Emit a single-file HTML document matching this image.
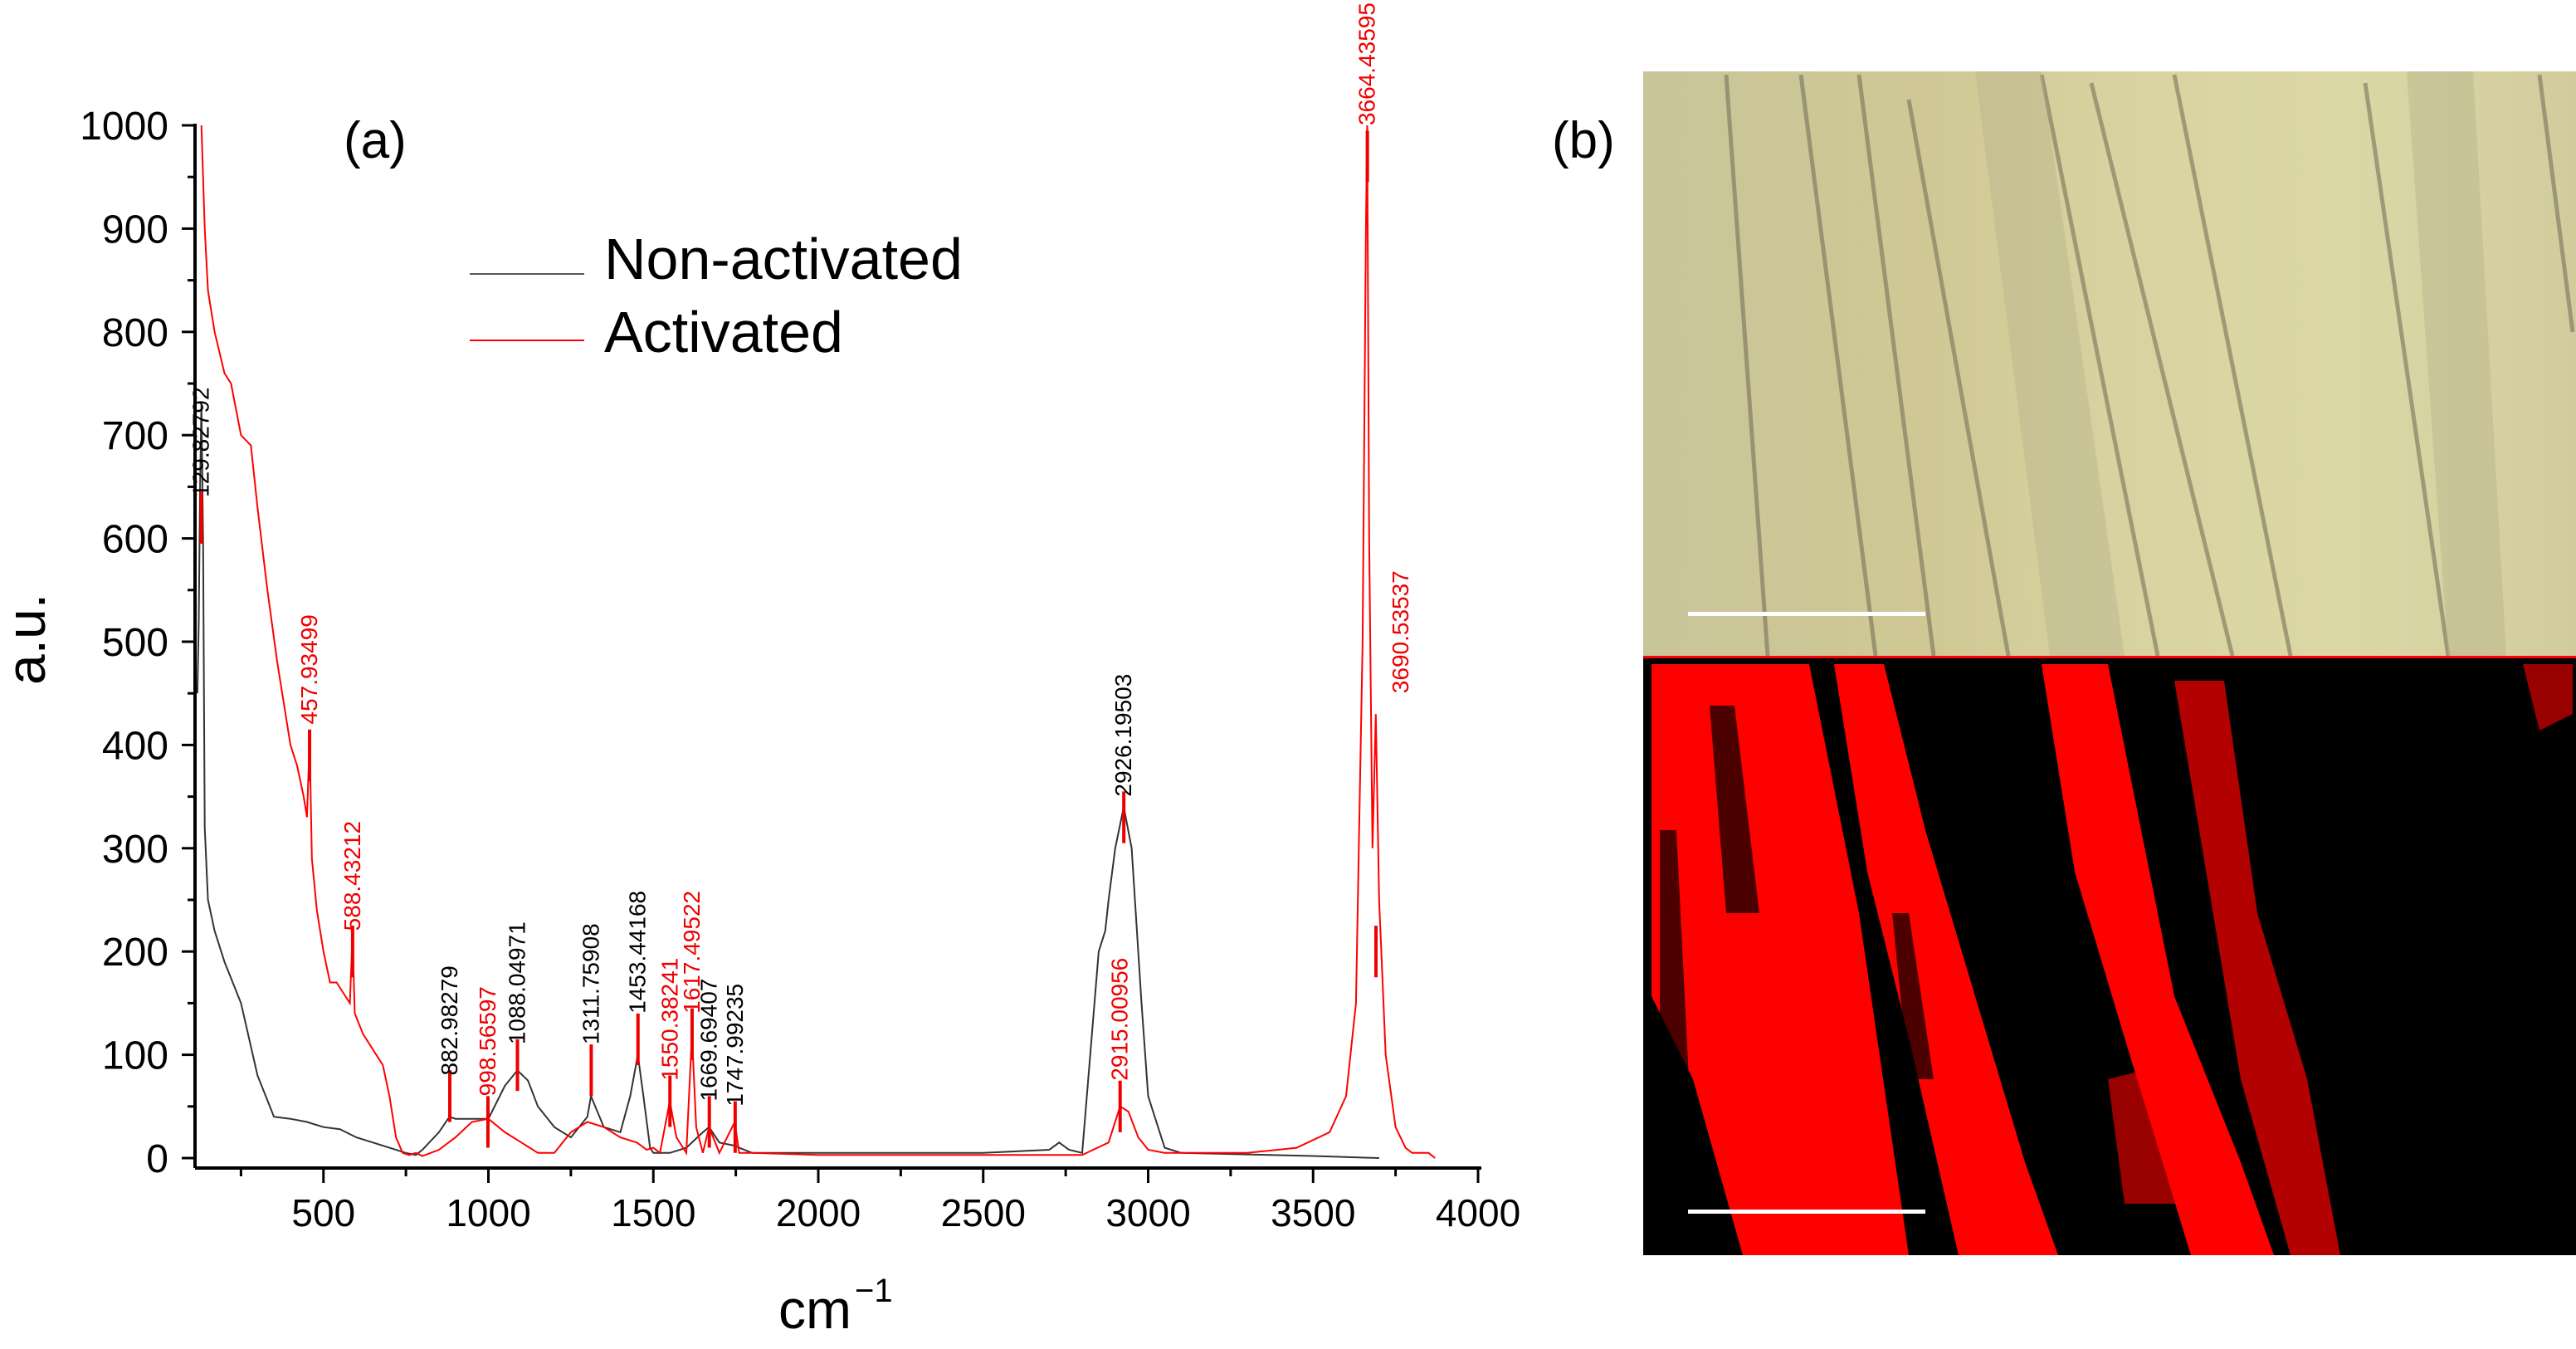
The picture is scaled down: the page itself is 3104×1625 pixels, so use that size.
<!DOCTYPE html>
<html><head><meta charset="utf-8"><style>
html,body{margin:0;padding:0;background:#fff;}
svg{display:block;font-family:"Liberation Sans",Arial,sans-serif;}
</style></head><body>
<svg id="fig" width="3104" height="1625" viewBox="0 0 3104 1625" xmlns="http://www.w3.org/2000/svg">
<defs>
<linearGradient id="micro" x1="0" y1="0" x2="1" y2="0">
<stop offset="0" stop-color="#c9c59a"/><stop offset="0.3" stop-color="#cfc894"/><stop offset="0.5" stop-color="#d8d2a0"/><stop offset="0.75" stop-color="#dcd8a6"/><stop offset="1" stop-color="#d2cc9c"/>
</linearGradient>
</defs>
<g id="chart"></g>
<text x="414" y="190" font-size="62" text-anchor="start">(a)</text>
<text x="1870" y="190" font-size="62">(b)</text>
<g>
<rect x="1980" y="86" width="1124" height="704" fill="url(#micro)"/>
<g stroke="#6e6a55" stroke-width="5" fill="none" opacity="0.55">
<path d="M2080 90 L2130 790"/><path d="M2170 90 L2260 790"/><path d="M2240 90 L2330 790"/><path d="M2300 120 L2420 790"/>
<path d="M2460 90 L2600 790"/><path d="M2520 100 L2690 790"/><path d="M2620 90 L2760 790"/><path d="M2850 100 L2950 790"/><path d="M3060 90 L3100 400"/>
</g>
<g fill="#b7b38c" opacity="0.45"><path d="M2380 86 L2460 86 L2560 790 L2470 790Z"/><path d="M2900 86 L2980 86 L3020 790 L2950 790Z"/></g>
<rect x="2034" y="737" width="286" height="5" fill="#fff"/>
</g>
<g>
<rect x="1980" y="790" width="1124" height="722" fill="#000"/>
<rect x="1980" y="790" width="1124" height="3" fill="#f00"/>
<g fill="#ff0000">
<path d="M1990 800 L2180 800 L2240 1100 L2300 1512 L2100 1512 L2040 1300 L1990 1200Z"/>
<path d="M2210 800 L2270 800 L2320 1000 L2380 1200 L2440 1400 L2480 1512 L2360 1512 L2300 1250 L2250 1050Z"/>
<path d="M2460 800 L2540 800 L2580 1000 L2620 1200 L2700 1400 L2740 1512 L2640 1512 L2560 1250 L2500 1050Z"/>
<path d="M2620 820 L2680 820 L2720 1100 L2780 1300 L2820 1512 L2760 1512 L2700 1300Z" opacity="0.7"/>
<path d="M2540 1300 L2620 1280 L2660 1450 L2560 1450Z" opacity="0.6"/>
<path d="M3040 800 L3100 800 L3100 860 L3060 880Z" opacity="0.6"/>
</g>
<g fill="#000" opacity="0.7"><path d="M2060 850 L2090 850 L2120 1100 L2080 1100Z"/><path d="M2000 1000 L2020 1000 L2040 1400 L2000 1400Z"/><path d="M2280 1100 L2300 1100 L2330 1300 L2300 1300Z"/></g>
<rect x="2034" y="1457" width="286" height="5" fill="#fff"/>
</g>
</svg>
<script>
const xTicks=[500,1000,1500,2000,2500,3000,3500,4000];
const yTicks=[0,100,200,300,400,500,600,700,800,900,1000];
const nonX=[118,122,126,130,135,140,150,170,200,250,300,350,400,450,500,550,600,650,700,750,780,800,850,882,900,950,1000,1050,1088,1120,1150,1200,1250,1300,1311,1350,1400,1430,1453,1470,1490,1500,1550,1600,1650,1669,1700,1747,1760,1800,2000,2500,2700,2730,2760,2800,2850,2870,2880,2900,2926,2950,2980,3000,3050,3100,3500,3700];
const nonY=[450,520,650,730,600,320,250,220,190,150,80,40,38,35,30,28,20,15,10,5,3,8,25,40,38,38,38,70,85,75,50,30,20,40,60,30,25,60,100,60,10,5,5,10,25,30,15,12,10,5,5,5,8,15,8,5,200,220,250,300,340,300,150,60,10,5,2,0];
const actX=[130,140,150,170,200,220,250,280,300,330,360,400,420,440,450,458,465,480,500,520,540,560,580,588,595,620,650,680,700,720,740,760,780,800,850,900,950,1000,1050,1100,1150,1200,1250,1300,1350,1400,1450,1480,1500,1520,1550,1570,1600,1617,1630,1650,1669,1700,1747,1760,1800,2000,2500,2800,2880,2915,2940,2970,3000,3050,3100,3300,3450,3550,3600,3630,3650,3660,3664,3670,3680,3690,3700,3720,3750,3780,3800,3850,3870];
const actY=[1000,900,840,800,760,750,700,690,630,550,480,400,380,350,330,405,290,240,200,170,170,160,150,215,140,120,105,90,60,20,5,3,5,2,8,20,35,38,25,15,5,5,25,35,30,20,15,8,10,5,55,20,5,120,30,5,30,5,35,5,5,3,3,3,15,50,45,20,8,5,5,5,10,25,60,150,500,900,1000,600,300,430,250,100,30,10,5,5,0];
const peakX=[129.82792,457.93499,588.43212,882.98279,998.56597,1088.04971,1311.75908,1453.44168,1550.38241,1617.49522,1669.69407,1747.99235,2926.19503,2915.00956,3664.43595,3690.53537];
const peakY=[620,390,200,60,35,90,85,115,55,120,35,30,330,50,970,200];
const peakLabelY=[640,420,220,80,60,110,110,140,75,140,55,50,350,75,1000,450];
const peakColor=['#000','#e00','#e00','#000','#e00','#000','#000','#000','#e00','#e00','#000','#000','#000','#e00','#e00','#e00'];
const peakLabelDX=[0,0,0,0,0,0,0,0,0,0,0,0,0,0,0,30];

const NS='http://www.w3.org/2000/svg';
const g=document.getElementById('chart');
const Y0=0,Y1=1000;
const px0=235,py0=1395,py1=151;
function sx(v){return 191+(v)*0.3975;}
function sy(v){return py0-(v-Y0)*(py0-py1)/(Y1-Y0);}
function mk(t,a){const e=document.createElementNS(NS,t);for(const k in a)e.setAttribute(k,a[k]);g.appendChild(e);return e;}
const axisB=1407;
let e=mk('line',{x1:px0,y1:axisB,x2:1785,y2:axisB,stroke:'#000','stroke-width':4});


e=mk('line',{x1:px0,y1:py1-2,x2:px0,y2:axisB,stroke:'#000','stroke-width':4});


xTicks.forEach(v=>{
  e=mk('line',{x1:sx(v),y1:axisB,x2:sx(v),y2:axisB+18,stroke:'#000','stroke-width':3});
  
  
  e=mk('line',{x1:sx(v-250),y1:axisB,x2:sx(v-250),y2:axisB+10,stroke:'#000','stroke-width':3});
  
  
  e=mk('text',{x:sx(v),y:axisB+70,'font-size':46,'text-anchor':'middle'});e.textContent=v;
  
  
});
yTicks.forEach(v=>{
  e=mk('line',{x1:px0-16,y1:sy(v),x2:px0,y2:sy(v),stroke:'#000','stroke-width':3});
  
  
  if(v<1000){e=mk('line',{x1:px0-9,y1:sy(v+50),x2:px0,y2:sy(v+50),stroke:'#000','stroke-width':3});
  
  }
  e=mk('text',{x:px0-32,y:sy(v)+17,'font-size':48,'text-anchor':'end'});e.textContent=v;
  
  
});
e=mk('text',{x:938,y:1600,'font-size':66});e.textContent='cm';


e=mk('text',{x:1030,y:1568,'font-size':40});e.textContent='\u22121';


e=mk('text',{x:0,y:0,'font-size':66,'text-anchor':'middle',transform:'translate(54,770) rotate(-90)'});e.textContent='a.u.';


function pts(xs,ys){return xs.map((x,i)=>sx(x).toFixed(1)+','+sy(ys[i]).toFixed(1)).join(' ');}
e=mk('polyline',{points:pts(nonX,nonY),fill:'none',stroke:'#333','stroke-width':2});


e=mk('polyline',{points:pts(actX,actY),fill:'none',stroke:'#f00','stroke-width':2});


peakX.forEach((x,i)=>{
  e=mk('line',{x1:sx(x),y1:sy(peakY[i]-25),x2:sx(x),y2:sy(peakY[i]+25),stroke:'#e00','stroke-width':4});
  
  
  const tx=sx(x)+9+peakLabelDX[i],ty=sy(peakLabelY[i]);
  e=mk('text',{x:0,y:0,'font-size':28,fill:peakColor[i],transform:`translate(${tx},${ty}) rotate(-90)`});
  e.textContent=x.toFixed(5).replace(/0+$/,'');
  
  
});
e=mk('line',{x1:566,y1:330,x2:704,y2:330,stroke:'#555','stroke-width':2});


e=mk('text',{x:728,y:336,'font-size':70});e.textContent='Non-activated';


e=mk('line',{x1:566,y1:410,x2:704,y2:410,stroke:'#f00','stroke-width':2});


e=mk('text',{x:728,y:424,'font-size':70});e.textContent='Activated';


</script>
</body></html>
